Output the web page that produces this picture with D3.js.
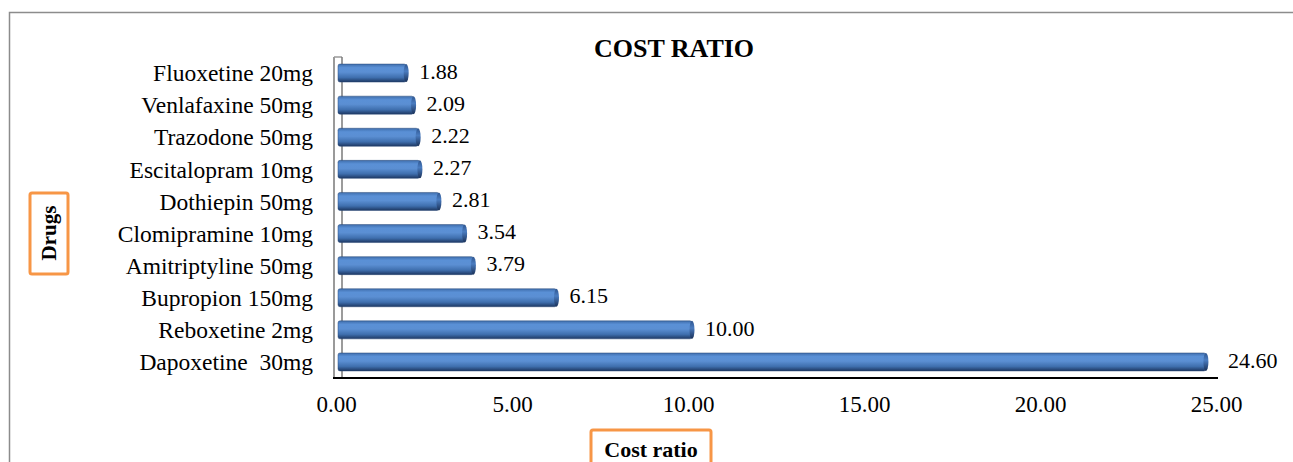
<!DOCTYPE html>
<html>
<head>
<meta charset="utf-8">
<script src="https://cdn.jsdelivr.net/npm/d3@7"></script>
<style>
  body { margin: 0; background: #fff; }
  svg { display: block; font-family: "Liberation Serif", "Times New Roman", serif; }
</style>
</head>
<body>
<svg class="chart"></svg>
<script>
var drugs = ["Fluoxetine 20mg", "Venlafaxine 50mg", "Trazodone 50mg", "Escitalopram 10mg",
    "Dothiepin 50mg", "Clomipramine 10mg", "Amitriptyline 50mg", "Bupropion 150mg",
    "Reboxetine 2mg", "Dapoxetine  30mg"];
var costRatio = [1.88, 2.09, 2.22, 2.27, 2.81, 3.54, 3.79, 6.15, 10.00, 24.60];
var xTicks = [0, 5, 10, 15, 20, 25];

(function show() {
    'use strict';

    var W = 1293, H = 462;
    var depth = 4; // 3D depth shift of the bars
    var data = drugs.map(function(d, i) { return {drug: d, value: costRatio[i]}; });

    var svg = d3.select(".chart").attr("width", W).attr("height", H);

    // outer frame (runs off the right and bottom edges)
    svg.append("rect")
        .attr("x", 9.5).attr("y", 12.5)
        .attr("width", 1400).attr("height", 470)
        .attr("fill", "none").attr("stroke", "#8c8c8c").attr("stroke-width", 1.5);

    var defs = svg.append("defs");
    var grad = defs.append("linearGradient")
        .attr("id", "barGrad").attr("x1", 0).attr("y1", 0).attr("x2", 0).attr("y2", 1);
    [["0%", "#3f6ead"], ["20%", "#5a90d6"], ["45%", "#5b8fd3"], ["75%", "#3f6fae"], ["100%", "#1d3762"]]
        .forEach(function(s) { grad.append("stop").attr("offset", s[0]).attr("stop-color", s[1]); });
    var capGrad = defs.append("linearGradient")
        .attr("id", "capGrad").attr("x1", 0).attr("y1", 0).attr("x2", 0).attr("y2", 1);
    [["0%", "#2f5690"], ["40%", "#4a7cc0"], ["100%", "#1a3158"]]
        .forEach(function(s) { capGrad.append("stop").attr("offset", s[0]).attr("stop-color", s[1]); });

    var scaleX = d3.scaleLinear().domain([0, 25]).range([336, 1216]);
    var scaleY = d3.scaleBand()
        .domain(drugs)
        .range([57, 378])
        .paddingInner(0.44)
        .paddingOuter(0.22);

    // 3D wall and floor
    svg.append("line").attr("x1", 334).attr("x2", 334).attr("y1", 57).attr("y2", 379)
        .attr("stroke", "#9a9a9a").attr("stroke-width", 2);
    svg.append("line").attr("x1", 334).attr("x2", 342).attr("y1", 57).attr("y2", 57)
        .attr("stroke", "#9a9a9a").attr("stroke-width", 1.5);
    svg.append("line").attr("x1", 342).attr("x2", 342).attr("y1", 57).attr("y2", 378)
        .attr("stroke", "#7a7a7a").attr("stroke-width", 1.5);
    svg.append("line").attr("x1", 333).attr("x2", 1218).attr("y1", 378).attr("y2", 378)
        .attr("stroke", "#000").attr("stroke-width", 2);

    // bars
    var bars = svg.append("g").selectAll("g").data(data).enter().append("g");
    bars.append("rect")
        .attr("x", scaleX(0) + 2)
        .attr("y", function(d) { return scaleY(d.drug); })
        .attr("width", function(d) { return scaleX(d.value) + depth - scaleX(0) - 2; })
        .attr("height", scaleY.bandwidth())
        .attr("rx", 2)
        .attr("fill", "url(#barGrad)")
        .attr("stroke", "#2b4a78").attr("stroke-width", 0.5);
    bars.append("ellipse")
        .attr("cx", function(d) { return scaleX(d.value) + depth; })
        .attr("cy", function(d) { return scaleY(d.drug) + scaleY.bandwidth() / 2; })
        .attr("rx", 2.5)
        .attr("ry", scaleY.bandwidth() / 2)
        .attr("fill", "url(#capGrad)");

    // value labels
    bars.append("text")
        .attr("x", function(d) { return scaleX(d.value) + depth + (d.value > 20 ? 22 : 13); })
        .attr("y", function(d) { return scaleY(d.drug) + scaleY.bandwidth() / 2 - 2; })
        .attr("dy", "0.35em")
        .attr("font-size", 22)
        .text(function(d) { return d.value.toFixed(2); });

    // category labels
    svg.append("g").selectAll("text").data(drugs).enter().append("text")
        .attr("x", 313)
        .attr("y", function(d) { return scaleY(d) + scaleY.bandwidth() / 2; })
        .attr("dy", "0.35em")
        .attr("text-anchor", "end")
        .attr("font-size", 23.5)
        .attr("xml:space", "preserve")
        .style("white-space", "pre")
        .text(function(d) { return d; });

    // bottom axis
    var bottomAxis = d3.axisBottom(scaleX)
        .tickValues(xTicks)
        .tickFormat(d3.format(".2f"))
        .tickSize(0)
        .tickPadding(18);
    var ax = svg.append("g")
        .attr("transform", "translate(0,378)")
        .call(bottomAxis);
    ax.select(".domain").remove();
    ax.selectAll(".tick text")
        .attr("font-family", "Liberation Serif, serif")
        .attr("font-size", 23)
        .attr("fill", "#000");

    // title
    svg.append("text")
        .attr("x", 674).attr("y", 57)
        .attr("text-anchor", "middle")
        .attr("font-size", 26).attr("font-weight", "bold")
        .text("COST RATIO");

    // axis titles in orange boxes
    svg.append("rect")
        .attr("x", 30).attr("y", 193).attr("width", 38).attr("height", 81)
        .attr("rx", 2)
        .attr("fill", "#fff").attr("stroke", "#f79646").attr("stroke-width", 3);
    svg.append("text")
        .attr("transform", "translate(56,233) rotate(-90)")
        .attr("text-anchor", "middle")
        .attr("font-size", 21).attr("font-weight", "bold")
        .text("Drugs");

    svg.append("rect")
        .attr("x", 591).attr("y", 430).attr("width", 120).attr("height", 45)
        .attr("rx", 2)
        .attr("fill", "#fff").attr("stroke", "#f79646").attr("stroke-width", 3);
    svg.append("text")
        .attr("x", 651).attr("y", 457)
        .attr("text-anchor", "middle")
        .attr("font-size", 22).attr("font-weight", "bold")
        .text("Cost ratio");
})();
</script>
</body>
</html>
